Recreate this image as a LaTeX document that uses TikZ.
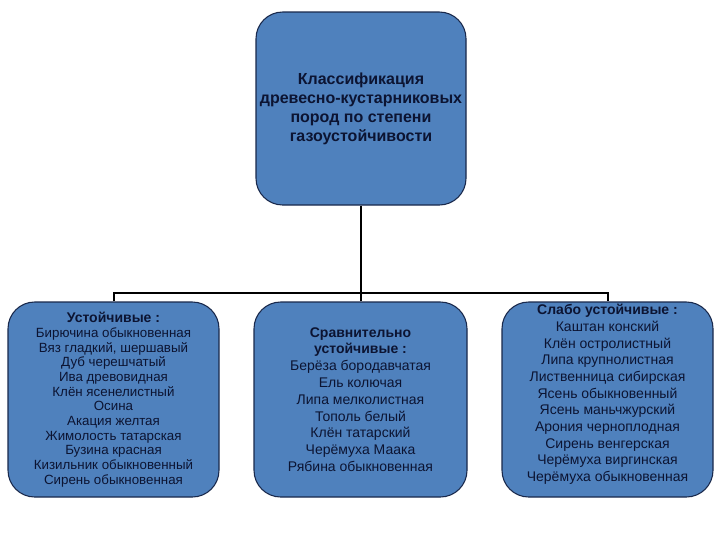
\documentclass[tikz,border=0pt]{standalone}
\usepackage{fontspec}
\setmainfont{Liberation Sans}
\usepackage{tikz}
\definecolor{boxblue}{RGB}{79,129,189}
\definecolor{boxline}{RGB}{25,40,75}
\definecolor{txt}{RGB}{12,20,50}

\begin{document}
\begin{tikzpicture}[x=0.75pt,y=-0.75pt,
  box/.style={draw=boxline, line width=0.8pt, fill=boxblue, rounded corners=20pt,
    align=center, text=txt, inner sep=0pt},
  link/.style={draw=black, line width=1.5pt}]
\useasboundingbox (0,0) rectangle (720,540);
\node [box, minimum width=157.5pt, minimum height=144.75pt,
  font=\fontsize{12}{14.3}\selectfont\bfseries] (top) at (361,108.5)
  {Классификация\\древесно-кустарниковых\\пород по степени\\газоустойчивости};
\node [box, minimum width=158.25pt, minimum height=146.25pt,
  font=\fontsize{10}{11}\selectfont] (stab) at (113.5,399.5)
  {{\fontsize{10.5}{12}\selectfont\bfseries Устойчивые :}\\Бирючина обыкновенная\\Вяз гладкий, шершавый\\Дуб черешчатый\\Ива древовидная\\Клён ясенелистный\\Осина\\Акация желтая\\Жимолость татарская\\Бузина красная\\Кизильник обыкновенный\\Сирень обыкновенная};
\node [box, minimum width=159.75pt, minimum height=146.25pt,
  font=\fontsize{10.5}{12.6}\selectfont] (mid) at (360.5,399.5)
  {\textbf{Сравнительно}\\\textbf{устойчивые :}\\Берёза бородавчатая\\Ель колючая\\Липа мелколистная\\Тополь белый\\Клён татарский\\Черёмуха Маака\\Рябина обыкновенная};
\node [box, minimum width=158.25pt, minimum height=146.25pt, text depth=10pt,
  font=\fontsize{10.5}{12.5}\selectfont] (weak) at (607.5,399.5)
  {\textbf{Слабо устойчивые :}\\Каштан конский\\Клён остролистный\\Липа крупнолистная\\Лиственница сибирская\\Ясень обыкновенный\\Ясень маньчжурский\\Арония черноплодная\\Сирень венгерская\\Черёмуха виргинская\\Черёмуха обыкновенная};
% connectors
\coordinate (bus) at (361,294);
\draw [link] (top.south) -- (bus);
\draw [link] (stab.north) -- ++(0,-8) -| (weak.north);
\draw [link] (mid.north) -- (mid.north |- bus);
\end{tikzpicture}
\end{document}
